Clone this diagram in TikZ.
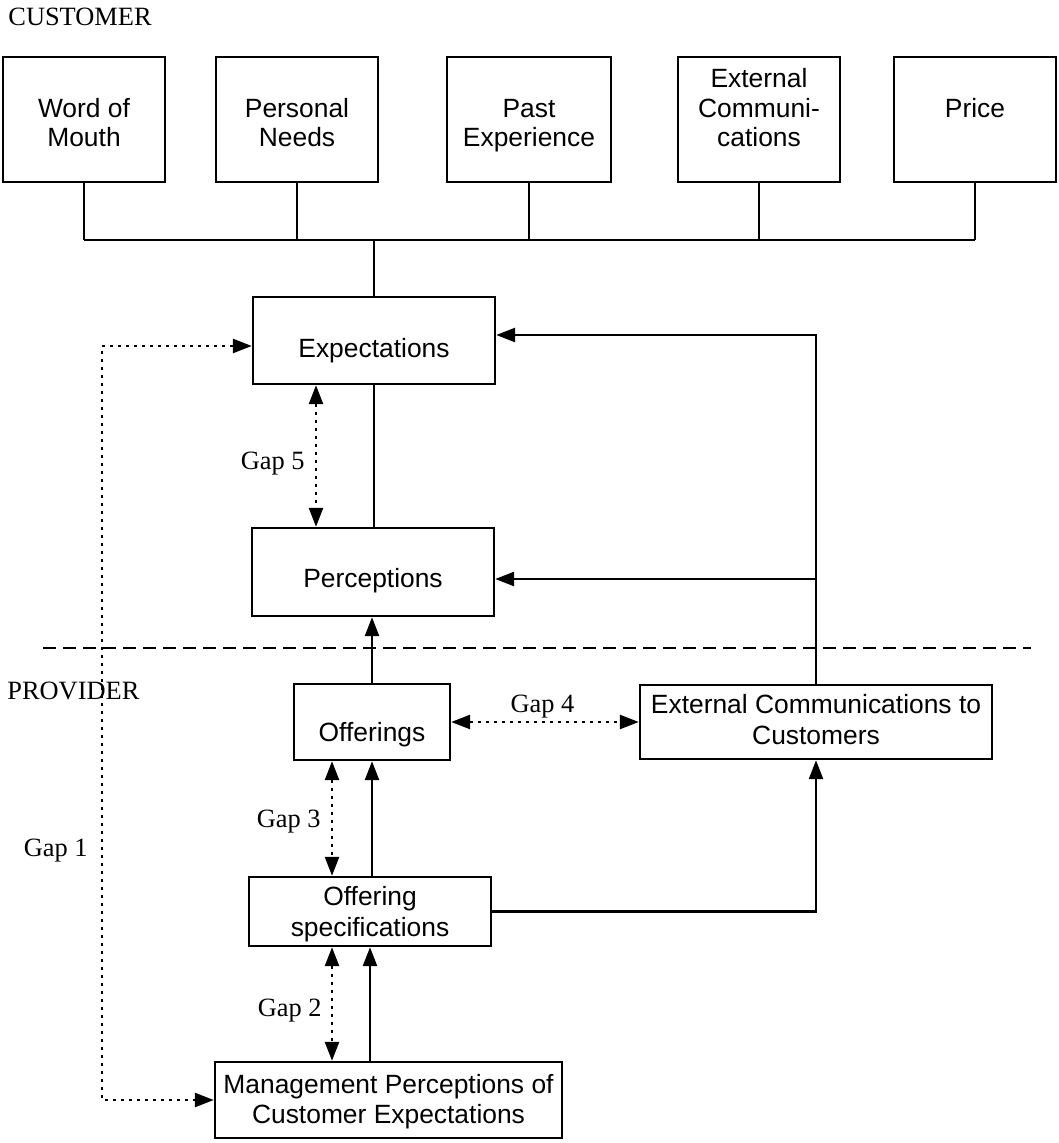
\documentclass[tikz,border=0pt]{standalone}
\usepackage{fontspec}
\setmainfont{Liberation Serif}
\setsansfont{Liberation Sans}
\usetikzlibrary{arrows.meta,calc}
\begin{document}
\begin{tikzpicture}[x=0.5pt,y=-0.5pt,
  box/.style={draw, line width=1.2pt, inner sep=0pt},
  txt/.style={font=\sffamily\fontsize{13.2}{15}\selectfont, inner sep=0pt, anchor=base},
  lab/.style={font=\rmfamily\fontsize{13.2}{15}\selectfont, inner sep=0pt},
  ln/.style={line width=1.4pt},
  tip/.tip={Triangle[length=9.5pt,width=7pt]},
  arr/.style={line width=1.3pt, -tip},
  gaparr/.style={line width=1.3pt, dash pattern=on 1.5pt off 2.5pt, tip-tip},
  divider/.style={line width=1pt, dash pattern=on 6.5pt off 3.5pt}
]
\useasboundingbox (0,0) rectangle (1058,1143);

% top boxes
\node[box, minimum width=81pt, minimum height=62.5pt] (wom) at (84,119.5) {};
\node[box, minimum width=81pt, minimum height=62.5pt] (pn) at (297,119.5) {};
\node[box, minimum width=82pt, minimum height=62.5pt] (pe) at (529,119.5) {};
\node[box, minimum width=81pt, minimum height=62.5pt] (ec) at (759,119.5) {};
\node[box, minimum width=81pt, minimum height=62.5pt] (pr) at (975,119.5) {};

\node[txt] (wom1) at (84,117.5) {Word of};
\node[txt] (wom2) at (84,147) {Mouth};
\node[txt] (pn1) at (297,117.5) {Personal};
\node[txt] (pn2) at (297,147) {Needs};
\node[txt] (pe1) at (529,117.5) {Past};
\node[txt] (pe2) at (529,147) {Experience};
\node[txt] (ec0) at (759,88) {External};
\node[txt] (ec1) at (759,117.5) {Communi-};
\node[txt] (ec2) at (759,147) {cations};
\node[txt] (pr1) at (975,117.5) {Price};

% main boxes
\node[box, minimum width=121pt, minimum height=43.5pt] (exp) at (374,340.5) {};
\node[box, minimum width=121pt, minimum height=44pt] (perc) at (373,572) {};
\node[box, minimum width=78pt, minimum height=38pt] (off) at (372,722) {};
\node[box, minimum width=176pt, minimum height=37pt] (ext) at (816,722) {};
\node[box, minimum width=121pt, minimum height=34.5pt] (spec) at (370,911.5) {};
\node[box, minimum width=173.5pt, minimum height=38pt] (mgmt) at (388.5,1100) {};

\node[txt] (expt) at (374,357.5) {Expectations};
\node[txt] (perct) at (373,587.5) {Perceptions};
\node[txt] (offt) at (372,741.5) {Offerings};
\node[txt] (extt1) at (816,713.5) {External Communications to};
\node[txt] (extt2) at (816,744.5) {Customers};
\node[txt] (spect1) at (370,905.5) {Offering};
\node[txt] (spect2) at (370,936) {specifications};
\node[txt] (mgmtt1) at (388.5,1093.5) {Management Perceptions of};
\node[txt] (mgmtt2) at (388.5,1123.5) {Customer Expectations};

% labels
\node[lab, anchor=base west] (cust) at (8,25.5) {CUSTOMER};
\node[lab, anchor=base west] (prov) at (7,699) {PROVIDER};
\node[lab, anchor=base east] (g5) at (305,469) {Gap 5};
\node[lab, anchor=base] (g4) at (542.5,712) {Gap 4};
\node[lab, anchor=base east] (g3) at (321,827) {Gap 3};
\node[lab, anchor=base east] (g2) at (322,1016) {Gap 2};
\node[lab, anchor=base east] (g1) at (88,856) {Gap 1};

% bus
\coordinate (busL) at (84,240);
\coordinate (busR) at (975,240);
\draw[ln] (busL) -- (busR);
\draw[ln] (wom.south) -- (wom.south |- busL);
\draw[ln] (pn.south) -- (pn.south |- busL);
\draw[ln] (pe.south) -- (pe.south |- busL);
\draw[ln] (ec.south) -- (ec.south |- busL);
\draw[ln] (pr.south) -- (pr.south |- busL);
\draw[ln] (exp.north |- busL) -- (exp.north);

% divider
\coordinate (dl) at (43,648);
\coordinate (dr) at (1031,648);
\draw[divider] (dl) -- (dr);

% solid connectors
\draw[ln] (exp.south) -- (exp.south |- perc.north);
\draw[arr] (off.north) -- (off.north |- perc.south);
\draw[arr] (ext.north) |- ([yshift=2.75pt]exp.east);
\draw[arr] ([yshift=-3.5pt]perc.east -| ext.north) -- ([yshift=-3.5pt]perc.east);
\draw[arr] (off.south |- spec.north) -- (off.south);
\draw[arr] (spec.south |- mgmt.north) -- (spec.south);
\draw[arr] (spec.east) -| (ext.south);

% gaps
\coordinate (g1t) at (102,346);
\coordinate (g1b) at (102,1100);
\draw[gaparr] (g1t -| exp.west) -- (g1t) -- (g1b) -- (mgmt.west);
\draw[gaparr] ([xshift=-29pt]exp.south) -- ([xshift=-29pt]exp.south |- perc.north);
\draw[gaparr] (off.east) -- (ext.west);
\draw[gaparr] ([xshift=-20pt]off.south) -- ([xshift=-20pt]off.south |- spec.north);
\draw[gaparr] ([xshift=-19pt]spec.south) -- ([xshift=-19pt]spec.south |- mgmt.north);
\end{tikzpicture}
\end{document}
